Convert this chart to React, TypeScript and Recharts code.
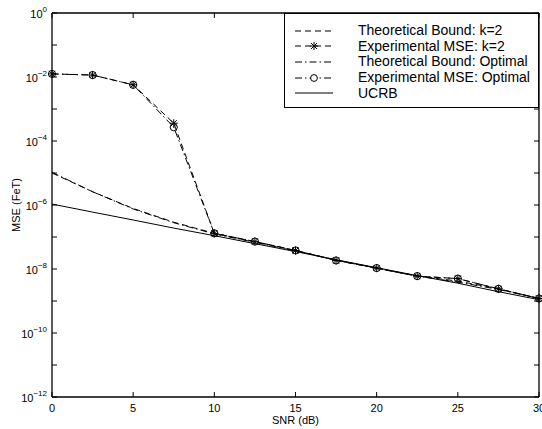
import { LineChart, Line, XAxis, YAxis, Legend } from "recharts"

const SNR_DB = [0, 2.5, 5, 7.5, 10, 12.5, 15, 17.5, 20, 22.5, 25, 27.5, 30]
const THEORY_K2 = [1.0e-5, 2.6e-6, 7.8e-7, 2.9e-7, 1.3e-7, 7.0e-8, 3.8e-8, 1.9e-8, 1.07e-8, 6.0e-9, 4.2e-9, 2.4e-9, 1.2e-9]
const EXPER_K2 = [1.25e-2, 1.15e-2, 5.7e-3, 3.6e-4, 1.3e-7, 7.2e-8, 3.8e-8, 1.85e-8, 1.07e-8, 6.0e-9, 5.0e-9, 2.4e-9, 1.2e-9]
const THEORY_OPT = [1.05e-5, 2.6e-6, 7.5e-7, 2.8e-7, 1.25e-7, 6.8e-8, 3.7e-8, 1.9e-8, 1.05e-8, 6.0e-9, 3.9e-9, 2.3e-9, 1.2e-9]
const EXPER_OPT = [1.25e-2, 1.15e-2, 5.7e-3, 2.7e-4, 1.3e-7, 7.2e-8, 3.8e-8, 1.85e-8, 1.07e-8, 6.0e-9, 5.0e-9, 2.4e-9, 1.2e-9]
const UCRB = [1.07e-6, 6.0e-7, 3.4e-7, 1.9e-7, 1.1e-7, 6.2e-8, 3.5e-8, 1.95e-8, 1.1e-8, 6.2e-9, 3.6e-9, 1.95e-9, 1.1e-9]

const X_TICKS = [0, 5, 10, 15, 20, 25, 30]
const Y_EXPONENTS = [-12, -11, -10, -9, -8, -7, -6, -5, -4, -3, -2, -1, 0]
const Y_TICKS = Y_EXPONENTS.map((e) => Math.pow(10, e))

const SERIES_NAMES = [
  "Theoretical Bound: k=2",
  "Experimental MSE: k=2",
  "Theoretical Bound: Optimal",
  "Experimental MSE: Optimal",
  "UCRB",
]

const data = SNR_DB.map((snr, i) => ({
  snr,
  theoryK2: THEORY_K2[i],
  experK2: EXPER_K2[i],
  theoryOpt: THEORY_OPT[i],
  experOpt: EXPER_OPT[i],
  ucrb: UCRB[i],
}))

const FONT = 'Arial, "Liberation Sans", Helvetica, sans-serif'
const DASH = "6 4"
const DASH_DOT = "7 3 1.5 3"

const StarDot = (p: any) => {
  const { cx, cy } = p
  if (cx == null || cy == null) return <g key={p.key} />
  const r = 4
  const d = r * 0.75
  return (
    <g key={p.key} stroke="#000" strokeWidth={1}>
      <line x1={cx - r} y1={cy} x2={cx + r} y2={cy} />
      <line x1={cx} y1={cy - r} x2={cx} y2={cy + r} />
      <line x1={cx - d} y1={cy - d} x2={cx + d} y2={cy + d} />
      <line x1={cx - d} y1={cy + d} x2={cx + d} y2={cy - d} />
    </g>
  )
}

const CircleDot = (p: any) => {
  const { cx, cy } = p
  if (cx == null || cy == null) return <g key={p.key} />
  return <circle key={p.key} cx={cx} cy={cy} r={3.6} fill="none" stroke="#000" strokeWidth={1} />
}

function yTick(side: "left" | "right") {
  return (props: any) => {
    const { x, y, payload } = props
    const exp = Math.round(Math.log10(payload.value))
    const dir = side === "left" ? 1 : -1
    return (
      <g>
        <line x1={x} y1={y} x2={x + dir * 5} y2={y} stroke="#000" strokeWidth={1} />
        {side === "left" && exp % 2 === 0 && (
          <text x={x - 5} y={y + 5} textAnchor="end" fontSize={11} fontFamily={FONT} fill="#000">
            10
            <tspan dy={-6} fontSize={8}>
              {exp < 0 ? "\u2212" + Math.abs(exp) : exp}
            </tspan>
          </text>
        )}
      </g>
    )
  }
}

function xTick(side: "bottom" | "top") {
  return (props: any) => {
    const { x, y, payload } = props
    const dir = side === "bottom" ? -1 : 1
    return (
      <g>
        <line x1={x} y1={y} x2={x} y2={y + dir * 5} stroke="#000" strokeWidth={1} />
        {side === "bottom" && (
          <text x={x} y={y + 15} textAnchor="middle" fontSize={11} fontFamily={FONT} fill="#000">
            {payload.value}
          </text>
        )}
      </g>
    )
  }
}

const LegendSample = ({ idx }: { idx: number }) => {
  const dash = idx === 0 || idx === 1 ? DASH : idx === 4 ? undefined : DASH_DOT
  return (
    <svg width={40} height={12} style={{ display: "block" }}>
      <line x1={1} y1={6} x2={39} y2={6} stroke="#000" strokeWidth={1} strokeDasharray={dash} />
      {idx === 1 && <StarDot cx={20} cy={6} />}
      {idx === 3 && <circle cx={20} cy={6} r={3.4} fill="#fff" stroke="#000" />}
    </svg>
  )
}

const renderLegend = () => (
  <div
    style={{
      border: "1px solid #000",
      background: "#fff",
      boxSizing: "border-box",
      width: "100%",
      height: "100%",
      paddingTop: 9,
      fontFamily: FONT,
      fontSize: 14,
      color: "#000",
    }}
  >
    {SERIES_NAMES.map((name, i) => (
      <div key={name} style={{ display: "flex", alignItems: "center", height: 15.6 }}>
        <div style={{ width: 9 }} />
        <LegendSample idx={i} />
        <div style={{ width: 24 }} />
        <span style={{ whiteSpace: "nowrap", lineHeight: "15px" }}>{name}</span>
      </div>
    ))}
  </div>
)

export default function App() {
  return (
    <div style={{ position: "absolute", left: 0, top: 0, width: 542, height: 429, background: "#fff" }}>
      <LineChart width={542} height={429} data={data} margin={{ top: 0, right: 0, left: 0, bottom: 0 }}>
        <XAxis
          dataKey="snr"
          type="number"
          domain={[0, 30]}
          ticks={X_TICKS}
          height={32}
          tickSize={0}
          tickMargin={0}
          tickLine={false}
          stroke="#000"
          strokeWidth={1.3}
          tick={xTick("bottom")}
          interval={0}
          label={{
            content: (p: any) => (
              <text x={p.viewBox.x + p.viewBox.width / 2} y={424} textAnchor="middle" fontSize={11} fontFamily={FONT} fill="#000">
                SNR (dB)
              </text>
            ),
          }}
        />
        <XAxis
          xAxisId="top"
          orientation="top"
          dataKey="snr"
          type="number"
          domain={[0, 30]}
          ticks={X_TICKS}
          height={13}
          tickSize={0}
          tickMargin={0}
          tickLine={false}
          stroke="#000"
          strokeWidth={1.3}
          tick={xTick("top")}
          interval={0}
        />
        <YAxis
          type="number"
          scale="log"
          domain={[1e-12, 1]}
          allowDataOverflow
          ticks={Y_TICKS}
          width={52}
          tickSize={0}
          tickMargin={0}
          tickLine={false}
          stroke="#000"
          strokeWidth={1.3}
          tick={yTick("left")}
          interval={0}
          label={{
            content: (p: any) => {
              const cy = p.viewBox.y + p.viewBox.height / 2
              return (
                <text x={17} y={cy} transform={`rotate(-90 17 ${cy})`} textAnchor="middle" dominantBaseline="middle" fontSize={11} fontFamily={FONT} fill="#000">
                  MSE (FeT)
                </text>
              )
            },
          }}
        />
        <YAxis
          yAxisId="right"
          orientation="right"
          type="number"
          scale="log"
          domain={[1e-12, 1]}
          allowDataOverflow
          ticks={Y_TICKS}
          width={3}
          tickSize={0}
          tickMargin={0}
          tickLine={false}
          stroke="#000"
          strokeWidth={1.3}
          tick={yTick("right")}
          interval={0}
        />
        <Legend
          layout="vertical"
          align="center"
          verticalAlign="middle"
          content={renderLegend}
          wrapperStyle={{ left: 284, top: 13, width: 255, height: 95 }}
        />
        <Line dataKey="theoryK2" name={SERIES_NAMES[0]} stroke="#000" strokeWidth={1} strokeDasharray={DASH} dot={false} isAnimationActive={false} />
        <Line dataKey="experK2" name={SERIES_NAMES[1]} stroke="#000" strokeWidth={1} strokeDasharray={DASH} dot={StarDot} isAnimationActive={false} />
        <Line dataKey="theoryOpt" name={SERIES_NAMES[2]} stroke="#000" strokeWidth={1} strokeDasharray={DASH_DOT} dot={false} isAnimationActive={false} />
        <Line dataKey="experOpt" name={SERIES_NAMES[3]} stroke="#000" strokeWidth={1} strokeDasharray={DASH_DOT} dot={CircleDot} isAnimationActive={false} />
        <Line dataKey="ucrb" name={SERIES_NAMES[4]} stroke="#000" strokeWidth={1} dot={false} isAnimationActive={false} />
      </LineChart>
    </div>
  )
}
